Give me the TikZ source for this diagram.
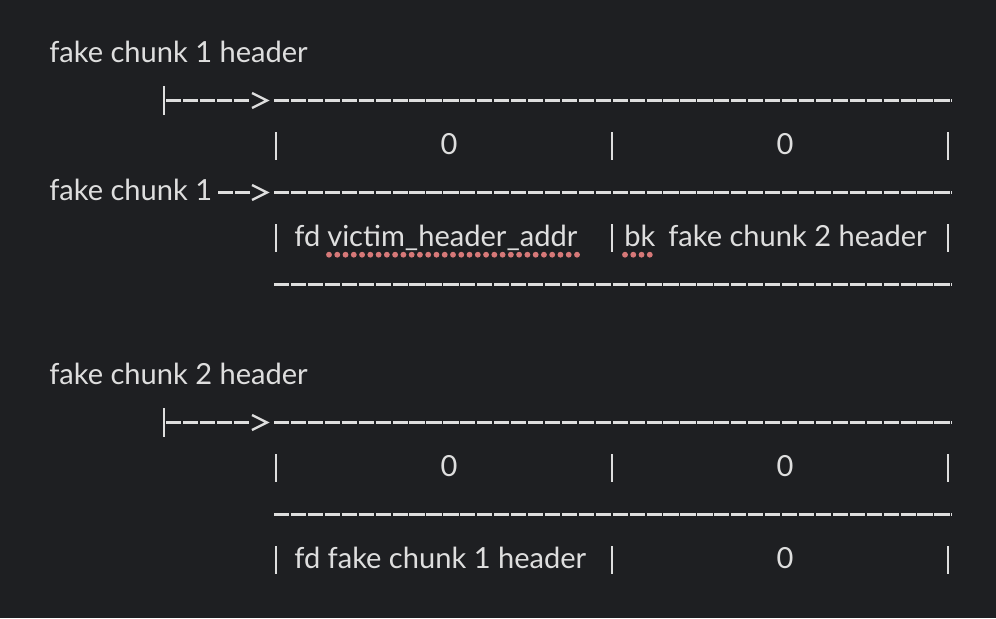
\documentclass[tikz,border=0pt]{standalone}
\usepackage{fontspec}
\setmainfont{Lato}
\usetikzlibrary{positioning}
\definecolor{bgdark}{RGB}{30,31,34}
\definecolor{inkgray}{RGB}{222,222,222}
\definecolor{spellred}{RGB}{214,120,120}
\begin{document}
\begin{tikzpicture}[x=0.75pt,y=-0.75pt,
    txt/.style={anchor=base west,inner sep=0pt,text=inkgray,font=\fontsize{21.8}{26}\selectfont},
    zero/.style={txt,anchor=base},
    rule/.style={draw=inkgray,line width=1.7pt,dash pattern=on 11.4pt off 1.3pt},
    bar/.style={draw=inkgray,line width=1.7pt},
    squiggle/.style={draw=spellred,line width=4.4pt,line cap=round,dash pattern=on 0pt off 6.2pt}]
    \fill[bgdark] (0,0) rectangle (996,618);
    % Headers
    \node[txt] (hdr1) at (49,62) {fake chunk 1 header};
    \node[txt] (hdr2) at (49,384) {fake chunk 2 header};
    % Header arrows and top rules
    \foreach \b in {108,430} {
      \draw[bar] (164,\b-22) -- (164,\b+7);
      \draw[rule] (166,\b-7.5) -- (250,\b-7.5);
      \draw[bar,line join=miter] (252,\b-15) -- (267,\b-7.5) -- (252,\b);
      \draw[rule] (274,\b-7.5) -- (952,\b-7.5);
    }
    % Cell walls
    \foreach \b in {154,246,476,568}
      \foreach \x in {276,612,948}
        \draw[bar] (\x,\b-22) -- (\x,\b+6);
    % Zeros
    \node[zero] (z1a) at (449,154) {0};
    \node[zero] (z1b) at (785,154) {0};
    \node[zero] (z2a) at (449,476) {0};
    \node[zero] (z2b) at (785,476) {0};
    \node[zero] (z2c) at (785,568) {0};
    % Fake chunk 1
    \node[txt] (chunk1) at (49,200) {fake chunk 1};
    \draw[rule] (218,192.5) -- (250,192.5);
    \draw[bar,line join=miter] (252,185) -- (267,192.5) -- (252,200);
    \draw[rule] (274,192.5) -- (952,192.5);
    \node[txt] (fd1) at (294,246) {fd};
    \node[txt] (victim) at (327,246) {victim\_header\_addr};
    \node[txt] (bk) at (624,246) {bk};
    \node[txt] (fc2) at (668,246) {fake chunk 2 header};
    \draw[squiggle] ([shift={(2,8.7)}]victim.base west) -- ([shift={(0,8.7)}]victim.base east);
    \draw[squiggle] ([shift={(1,8.7)}]bk.base west) -- ([shift={(0,8.7)}]bk.base east);
    \draw[rule] (274,284.5) -- (952,284.5);
    % Fake chunk 2
    \draw[rule] (274,514.5) -- (952,514.5);
    \node[txt] (fd2) at (294,568) {fd fake chunk 1 header};
\end{tikzpicture}
\end{document}
